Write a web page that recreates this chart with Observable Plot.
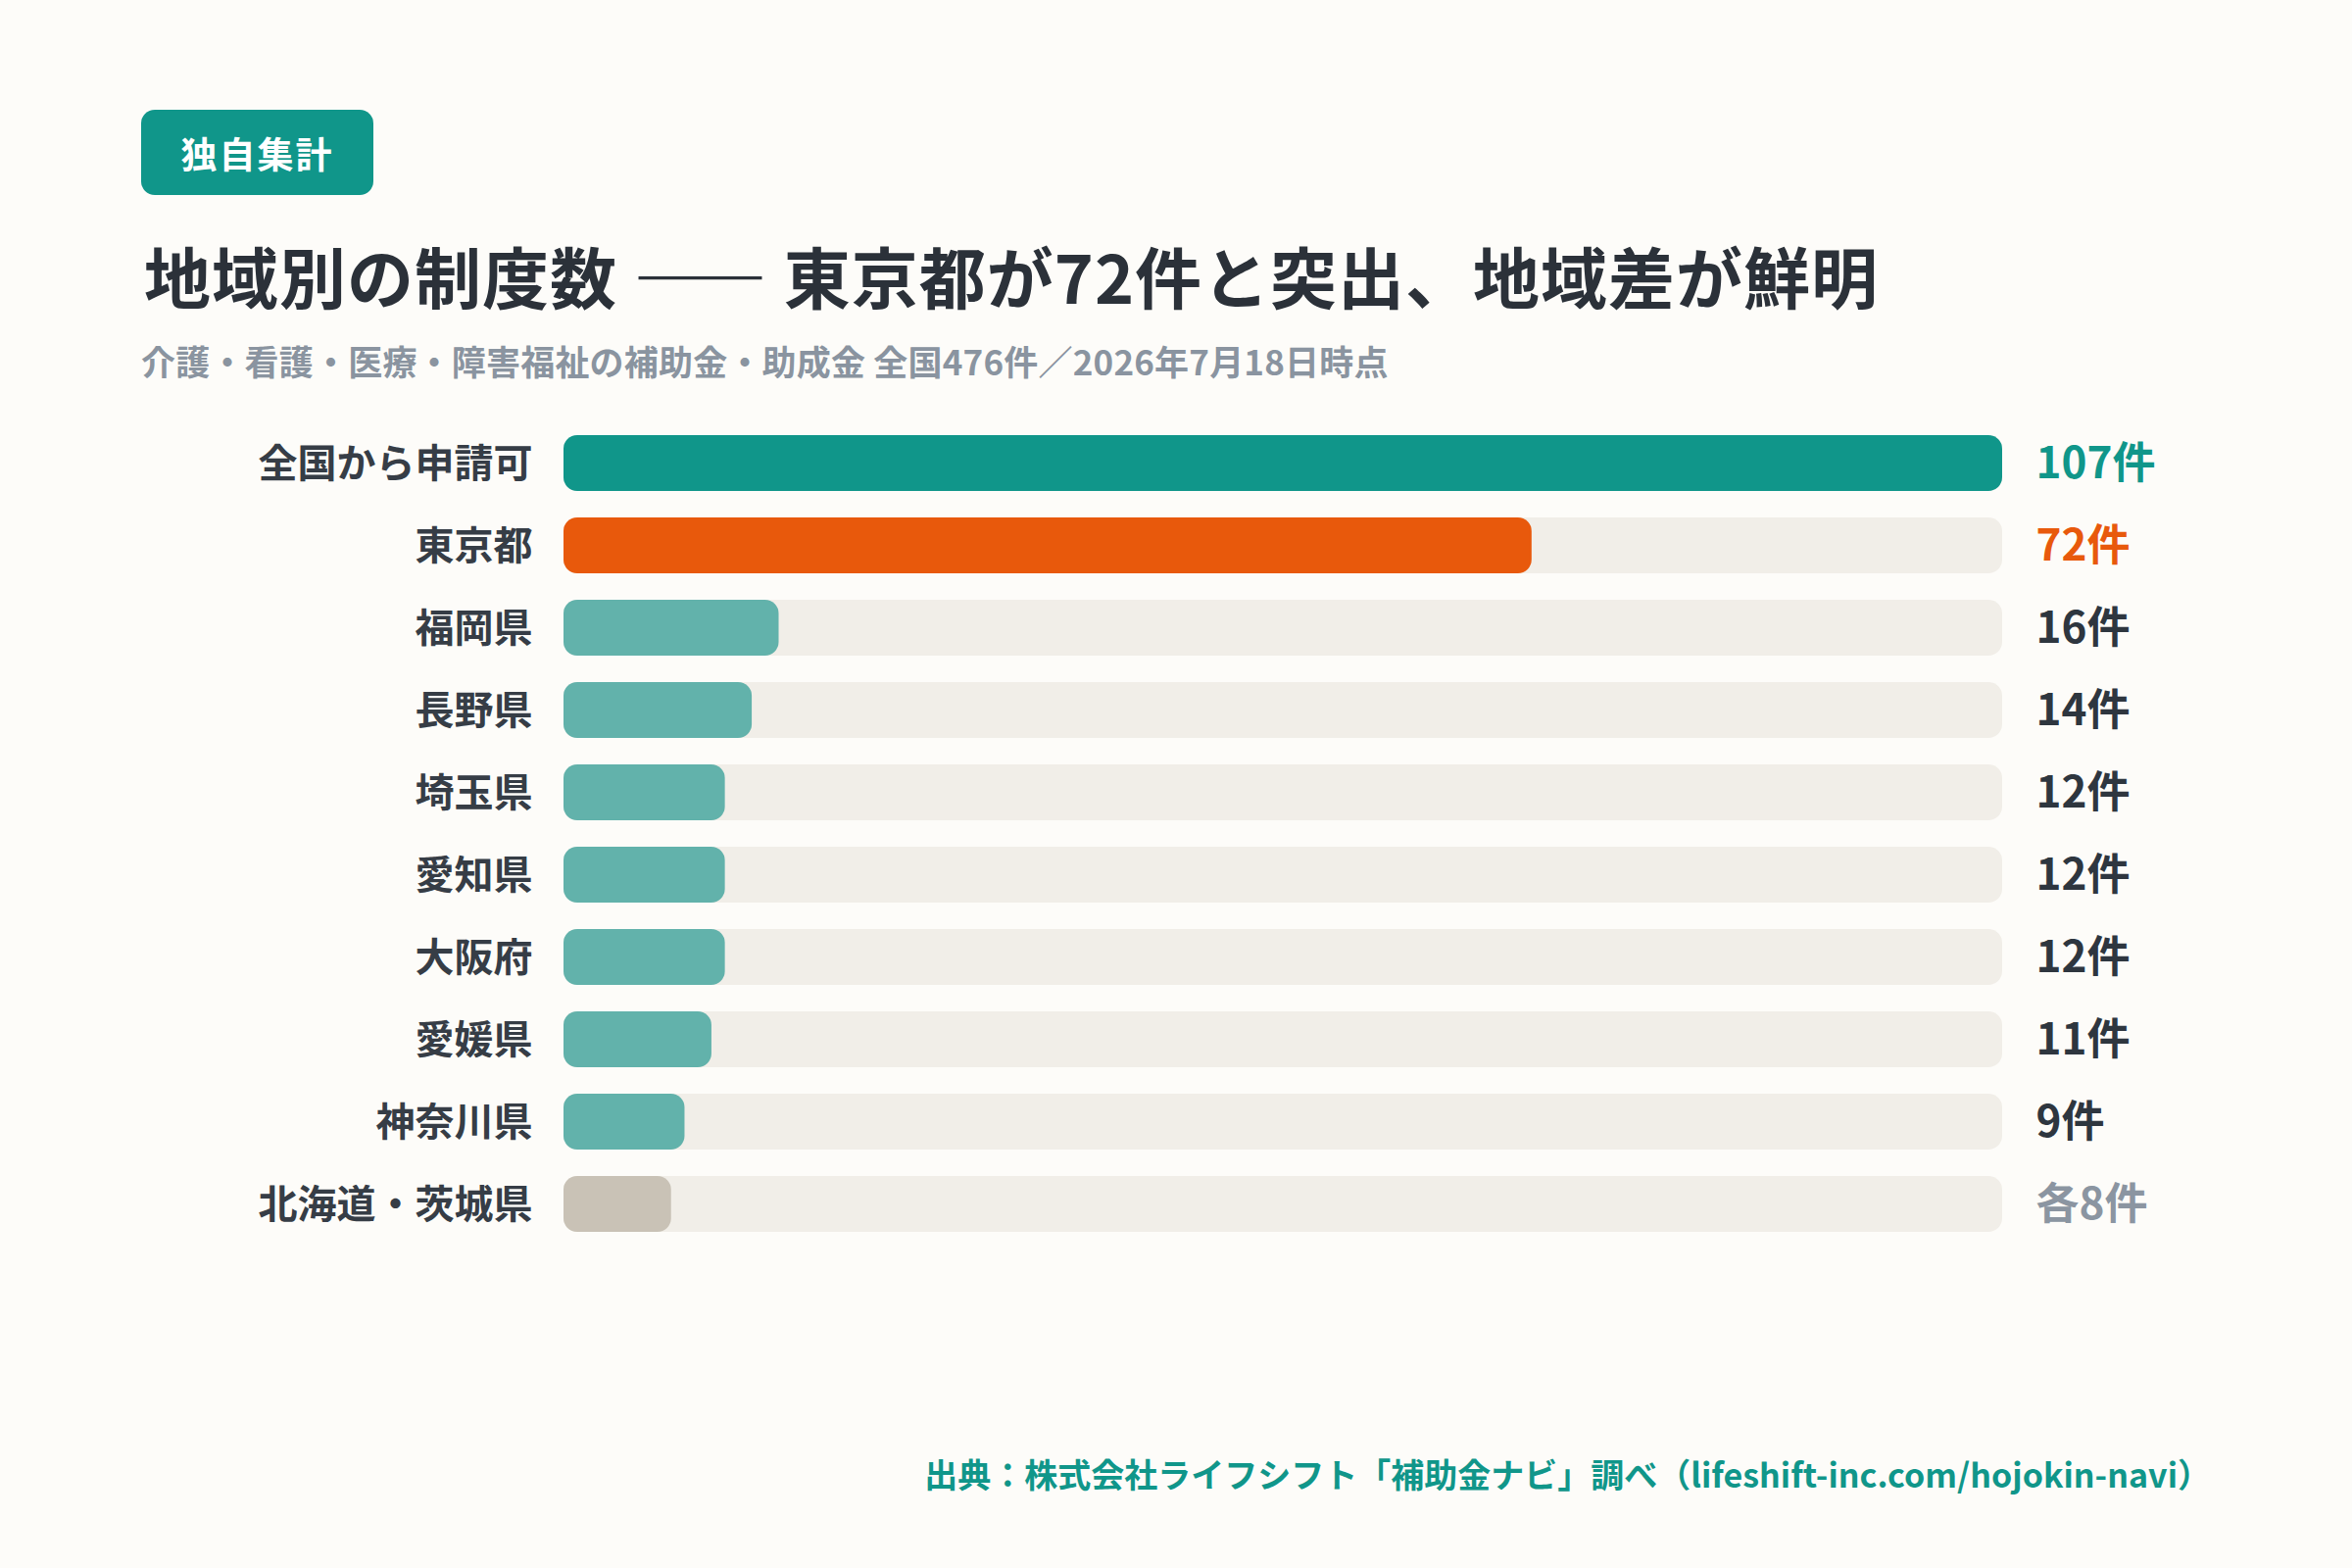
<!DOCTYPE html>
<html lang="ja">
<head>
<meta charset="utf-8">
<script src="https://cdn.jsdelivr.net/npm/d3@7"></script>
<script src="https://cdn.jsdelivr.net/npm/@observablehq/plot@0.6"></script>
<style>
  html, body { margin: 0; padding: 0; background: #fdfcf9; }
  body { width: 2400px; height: 1600px; position: relative; overflow: hidden;
         font-family: "Noto Sans CJK JP", "Noto Sans", sans-serif; }
  .badge { position: absolute; left: 144px; top: 112px; width: 237px; height: 87px;
           background: #10968a; border-radius: 14px; color: #fff; font-weight: 700;
           font-size: 37px; letter-spacing: 2px; display: flex; align-items: center; justify-content: center; }
  .title { position: absolute; left: 147px; top: 247px; font-size: 68px; line-height: 1; letter-spacing: 1px;
           font-weight: 700; color: #2b3139; white-space: nowrap; }
  .subtitle { position: absolute; left: 144px; top: 350px; font-size: 35px; line-height: 1; letter-spacing: 0.2px;
              font-weight: 700; color: #8a94a0; white-space: nowrap; }
  .footer { position: absolute; right: 144px; top: 1487px; font-size: 34px; line-height: 1;
            font-weight: 700; color: #10968a; white-space: nowrap; }
  #chart { position: absolute; left: 0; top: 400px; }
</style>
</head>
<body>
<div class="badge">独自集計</div>
<div class="title">地域別の制度数 —— 東京都が72件と突出、地域差が鮮明</div>
<div class="subtitle">介護・看護・医療・障害福祉の補助金・助成金 全国476件／2026年7月18日時点</div>
<div class="footer">出典：株式会社ライフシフト「補助金ナビ」調べ（lifeshift-inc.com/hojokin-navi）</div>
<div id="chart"></div>
<script>
const regions = ["全国から申請可", "東京都", "福岡県", "長野県", "埼玉県", "愛知県", "大阪府", "愛媛県", "神奈川県", "北海道・茨城県"];
const counts = [107, 72, 16, 14, 12, 12, 12, 11, 9, 8];
const valueLabels = ["107件", "72件", "16件", "14件", "12件", "12件", "12件", "11件", "9件", "各8件"];
const groups = ["all", "tokyo", "pref", "pref", "pref", "pref", "pref", "pref", "pref", "other"];

const groupNames = ["all", "tokyo", "pref", "other"];
const barColors = ["#10968a", "#e8590c", "#62b2ab", "#c9c2b6"];
const textColors = {all: "#10968a", tokyo: "#e8590c", pref: "#2e363f", other: "#8b95a1"};

const data = regions.map((r, i) => ({region: r, count: counts[i], label: valueLabels[i], group: groups[i]}));
const maxCount = d3.max(counts);

const font = "'Noto Sans CJK JP', 'Noto Sans', sans-serif";

const valueMarks = groupNames.map(g => Plot.text(data, {
  filter: d => d.group === g,
  y: "region", text: "label", frameAnchor: "right", dx: 34, dy: 1, textAnchor: "start",
  fill: textColors[g], fontSize: 44, fontWeight: 700, fontFamily: font
}));

const chart = Plot.plot({
  width: 2400,
  height: 920,
  marginLeft: 575,
  marginRight: 357,
  marginTop: 17,
  marginBottom: 36,
  style: {background: "transparent", fontFamily: font},
  x: {domain: [0, maxCount], axis: null},
  y: {domain: regions, padding: 0.32, axis: null},
  color: {domain: groupNames, range: barColors},
  marks: [
    Plot.barX(data, {y: "region", x: () => maxCount, fill: "#f1eee8", rx: 14}),
    Plot.barX(data, {y: "region", x: "count", fill: "group", rx: 14}),
    Plot.text(data, {y: "region", text: "region", frameAnchor: "left", dx: -32, dy: 1, textAnchor: "end",
      fill: "#363d46", fontSize: 40, fontWeight: 700, fontFamily: font}),
    ...valueMarks
  ]
});
document.getElementById("chart").appendChild(chart);
</script>
</body>
</html>
